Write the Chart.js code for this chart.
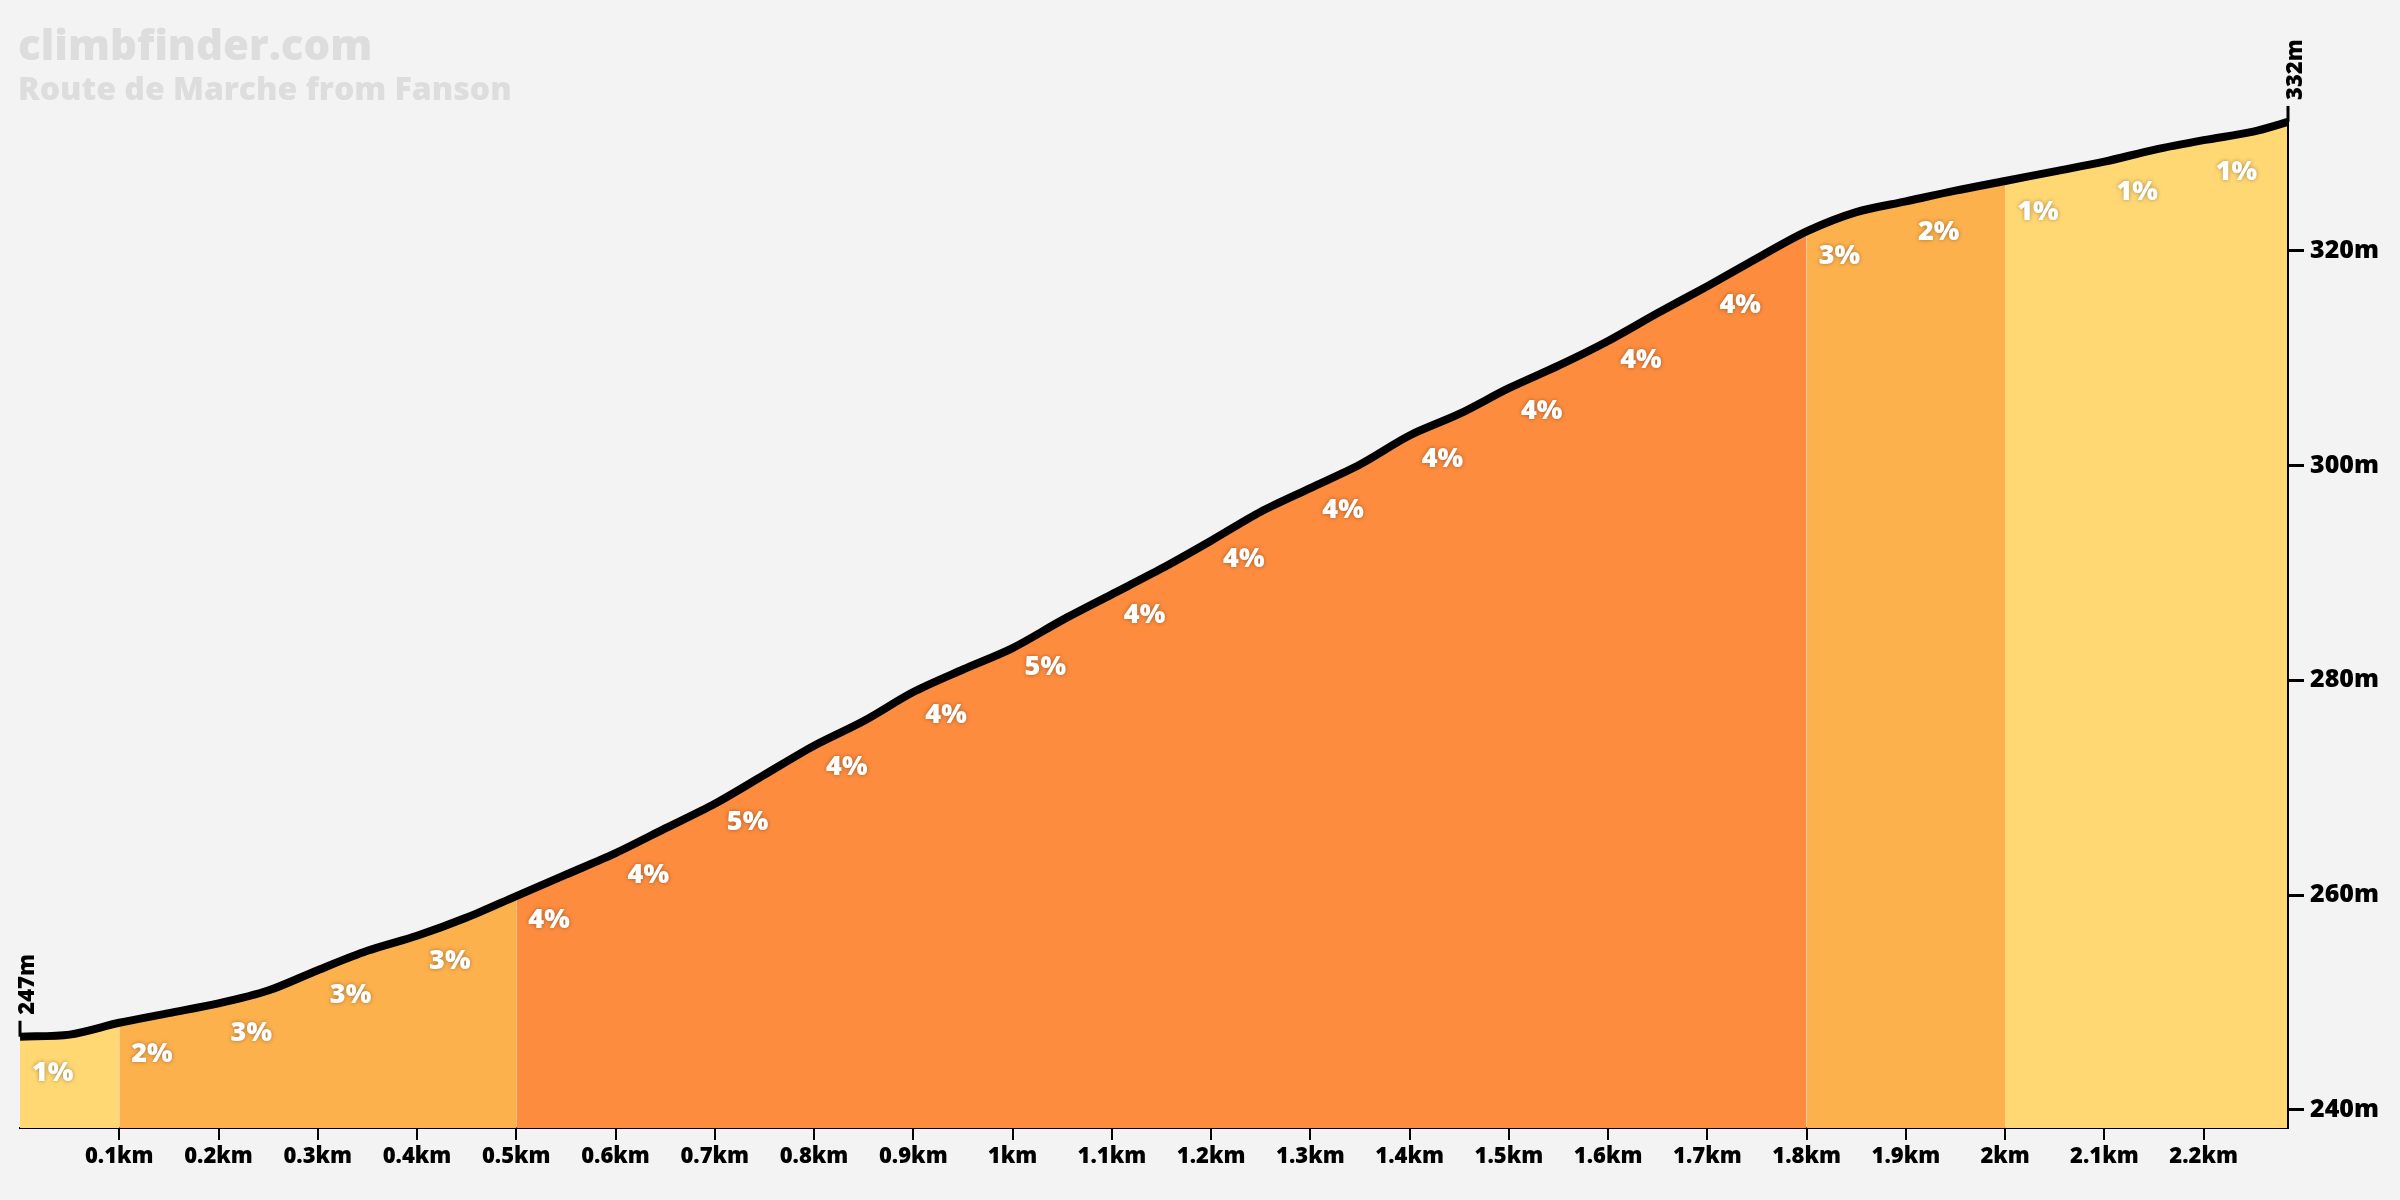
<!DOCTYPE html>
<html><head><meta charset="utf-8">
<script src="https://cdn.jsdelivr.net/npm/chart.js@4"></script>
<style>html,body{margin:0;background:#f3f3f3}#w{width:2400px;height:1200px;position:relative}</style>
</head><body><div id="w"><canvas id="c"></canvas></div>
<script>
const distKm=[0,0.05,0.1,0.15,0.2,0.25,0.3,0.35,0.4,0.45,0.5,0.55,0.6,0.65,0.7,0.75,0.8,0.85,0.9,0.95,1.0,1.05,1.1,1.15,1.2,1.25,1.3,1.35,1.4,1.45,1.5,1.55,1.6,1.65,1.7,1.75,1.8,1.85,1.9,1.95,2.0,2.05,2.1,2.15,2.2,2.25,2.285];
const elevM=[246.8,247.0,248.1,249.0,249.9,251.1,253.0,254.8,256.2,257.9,259.9,261.9,263.9,266.2,268.5,271.2,273.9,276.2,278.9,281.0,283.0,285.6,288.0,290.4,293.0,295.7,297.9,300.1,302.8,304.8,307.2,309.3,311.6,314.2,316.7,319.3,321.8,323.6,324.6,325.6,326.5,327.4,328.3,329.4,330.3,331.1,332.0];
const gradeStart=[0,0.1,0.2,0.3,0.4,0.5,0.6,0.7,0.8,0.9,1.0,1.1,1.2,1.3,1.4,1.5,1.6,1.7,1.8,1.9,2.0,2.1,2.2];
const gradePct=[1,2,3,3,3,4,4,5,4,4,5,4,4,4,4,4,4,4,3,2,1,1,1];
const bandEdges=[0,0.1,0.5,1.8,2.0,2.285];
const bandColors=['#FFD773','#FDB14D','#FD8C3F','#FDB14D','#FFD773'];
const xTicks=[0.1,0.2,0.3,0.4,0.5,0.6,0.7,0.8,0.9,1,1.1,1.2,1.3,1.4,1.5,1.6,1.7,1.8,1.9,2,2.1,2.2];
const yTicks=[240,260,280,300,320];
const FONT='"Open Sans", sans-serif';

const pts=distKm.map((d,i)=>({x:d,y:elevM[i]}));
function elevAt(x){for(let i=1;i<distKm.length;i++){if(x<=distKm[i]){const t=(x-distKm[i-1])/(distKm[i]-distKm[i-1]);return elevM[i-1]+t*(elevM[i]-elevM[i-1]);}}return elevM[elevM.length-1];}
const bandSets=bandColors.map((col,b)=>({
  data:pts.filter(p=>p.x>=bandEdges[b]-1e-9&&p.x<=bandEdges[b+1]+1e-9),
  borderWidth:0,pointRadius:0,fill:'start',backgroundColor:col,tension:0,order:5
}));
const lineSet={data:pts,borderColor:'#000',borderWidth:8,pointRadius:0,fill:false,tension:0.3,borderCapStyle:'butt',borderJoinStyle:'round',order:0};

const overlay={id:'overlay',afterDatasetsDraw(ch){
  const c=ch.ctx,xs=ch.scales.x,ys=ch.scales.y;
  c.save();
  c.font='800 27px '+FONT;c.textAlign='center';c.textBaseline='middle';
  c.shadowColor='rgba(0,0,0,0.35)';c.shadowBlur=4;c.fillStyle='#fff';
  gradeStart.forEach((s,i)=>{const x=s+0.033;c.fillText(gradePct[i]+'%',xs.getPixelForValue(x),ys.getPixelForValue(elevAt(x))+38);});
  c.shadowBlur=0;
  const rx=xs.right, topY=ys.getPixelForValue(elevM[elevM.length-1]);
  c.strokeStyle='#000';c.lineWidth=2;c.beginPath();c.moveTo(rx,ys.bottom);c.lineTo(rx,topY);c.stroke();
  c.fillStyle='#000';c.lineWidth=3;c.font='800 22px '+FONT;
  [[0,elevM[0]],[distKm[distKm.length-1],elevM[elevM.length-1]]].forEach(([d,e])=>{
    const px=xs.getPixelForValue(d),py=ys.getPixelForValue(e);
    c.beginPath();c.moveTo(px,py);c.lineTo(px,py-16);c.stroke();
    c.save();c.translate(px+8,py-22);c.rotate(-Math.PI/2);c.textAlign='left';c.fillText(Math.round(e)+'m',0,0);c.restore();
  });
  c.textAlign='left';c.textBaseline='alphabetic';c.fillStyle='#dddddd';
  c.font='900 42px '+FONT;c.fillText('climbfinder.com',18,60);
  c.font='900 32px '+FONT;c.fillText('Route de Marche from Fanson',18,100);
  c.restore();
}};

new Chart(document.getElementById('c'),{
  type:'line',
  data:{datasets:[lineSet,...bandSets]},
  options:{responsive:true,maintainAspectRatio:false,animation:false,
    layout:{padding:{left:20,top:0,right:0,bottom:0}},
    plugins:{legend:{display:false},tooltip:{enabled:false}},
    scales:{
      x:{type:'linear',min:0,max:2.285,
        afterBuildTicks:s=>{s.ticks=xTicks.map(v=>({value:v}));},
        afterFit:s=>{s.height=72;},
        border:{display:true,color:'#000',width:2},
        grid:{drawOnChartArea:false,drawTicks:true,tickLength:12,color:'#000',lineWidth:2},
        ticks:{color:'#000',font:{family:FONT,weight:'800',size:22},maxRotation:0,autoSkip:false,padding:4,
          callback:v=>(Math.round(v*10)/10)+'km'}},
      y:{position:'right',min:238.3,max:341.4,
        afterBuildTicks:s=>{s.ticks=yTicks.map(v=>({value:v}));},
        afterFit:s=>{s.width=112;},
        border:{display:false},
        grid:{drawOnChartArea:false,drawTicks:true,tickLength:16,color:'#000',lineWidth:3},
        ticks:{color:'#000',font:{family:FONT,weight:'800',size:25},padding:6,callback:v=>v+'m'}}
    }},
  plugins:[overlay]
});
</script></body></html>
